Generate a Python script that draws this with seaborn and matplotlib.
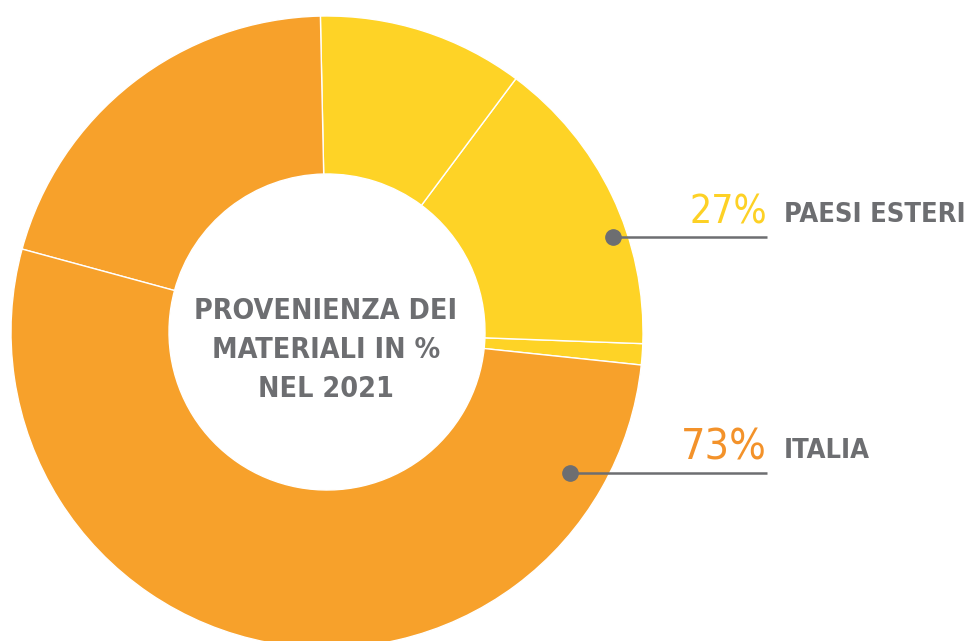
import matplotlib
matplotlib.use("Agg")
import matplotlib.pyplot as plt
import seaborn as sns

# Share of materials by origin (percent)
origins = ["PAESI ESTERI", "ITALIA"]
origin_shares = [27, 73]
share_labels = ["27%", "73%"]

# Relative weight of the ring segments inside each origin
esteri_parts = [4, 57, 39]
italia_parts = [28, 72]

center_title = "PROVENIENZA DEI\nMATERIALI IN %\nNEL 2021"

sns.set_theme(style="white")
plt.rcParams["font.family"] = ["DejaVu Sans"]
plt.rcParams["font.stretch"] = "condensed"

ORANGE = "#F7A12B"
YELLOW = "#FED326"
ORANGE_TXT = "#F3922A"
YELLOW_TXT = "#FDD125"
GREY = "#6D6E71"

values, colors = [], []
for p in esteri_parts:
    values.append(origin_shares[0] * p / sum(esteri_parts))
    colors.append(YELLOW)
for p in italia_parts:
    values.append(origin_shares[1] * p / sum(italia_parts))
    colors.append(ORANGE)

fig = plt.figure(figsize=(9.68, 6.41), dpi=100)
ax = fig.add_axes([0, 0, 1, 1])

ax.pie(values, colors=colors, startangle=-6, counterclock=True, radius=1,
       wedgeprops=dict(width=0.5, edgecolor="white", linewidth=1.0))

# pixel-like frame: ring centre at (327, 332) from top-left, radius 316 px
S = 316.0
ax.set_xlim(-327 / S, (968 - 327) / S)
ax.set_ylim(-(641 - 332) / S, 332 / S)
ax.set_aspect("equal")
ax.axis("off")

def px(x, y):
    return (x - 327) / S, (332 - y) / S

# centre title
cx, cy = px(326, 350)
ax.text(cx, cy, center_title, ha="center", va="center", multialignment="center",
        fontsize=20.5, fontweight="bold", fontstretch="condensed", color=GREY,
        linespacing=1.5)

# leader lines with dots
for (dx, dy), ly, pct, name, pcol, size in [
    ((613, 237), 237, share_labels[0], origins[0], YELLOW_TXT, 28),
    ((570, 473), 473, share_labels[1], origins[1], ORANGE_TXT, 31),
]:
    x0, y0 = px(dx, ly)
    x1, _ = px(767, ly)
    ax.plot([x0, x1], [y0, y0], color=GREY, lw=1.8, solid_capstyle="butt", zorder=3)
    ax.plot([x0], [y0], "o", color=GREY, ms=11, zorder=4)
    tx, ty = px(767, ly - 14)
    ax.text(tx, ty, pct, ha="right", va="baseline", fontsize=size,
            fontstretch="condensed", color=pcol)
    nx, ny = px(784, ly - 15)
    ax.text(nx, ny, name, ha="left", va="baseline", fontsize=19.5,
            fontstretch="condensed", color=GREY, fontweight="bold")

fig.savefig("out.png", dpi=100)
